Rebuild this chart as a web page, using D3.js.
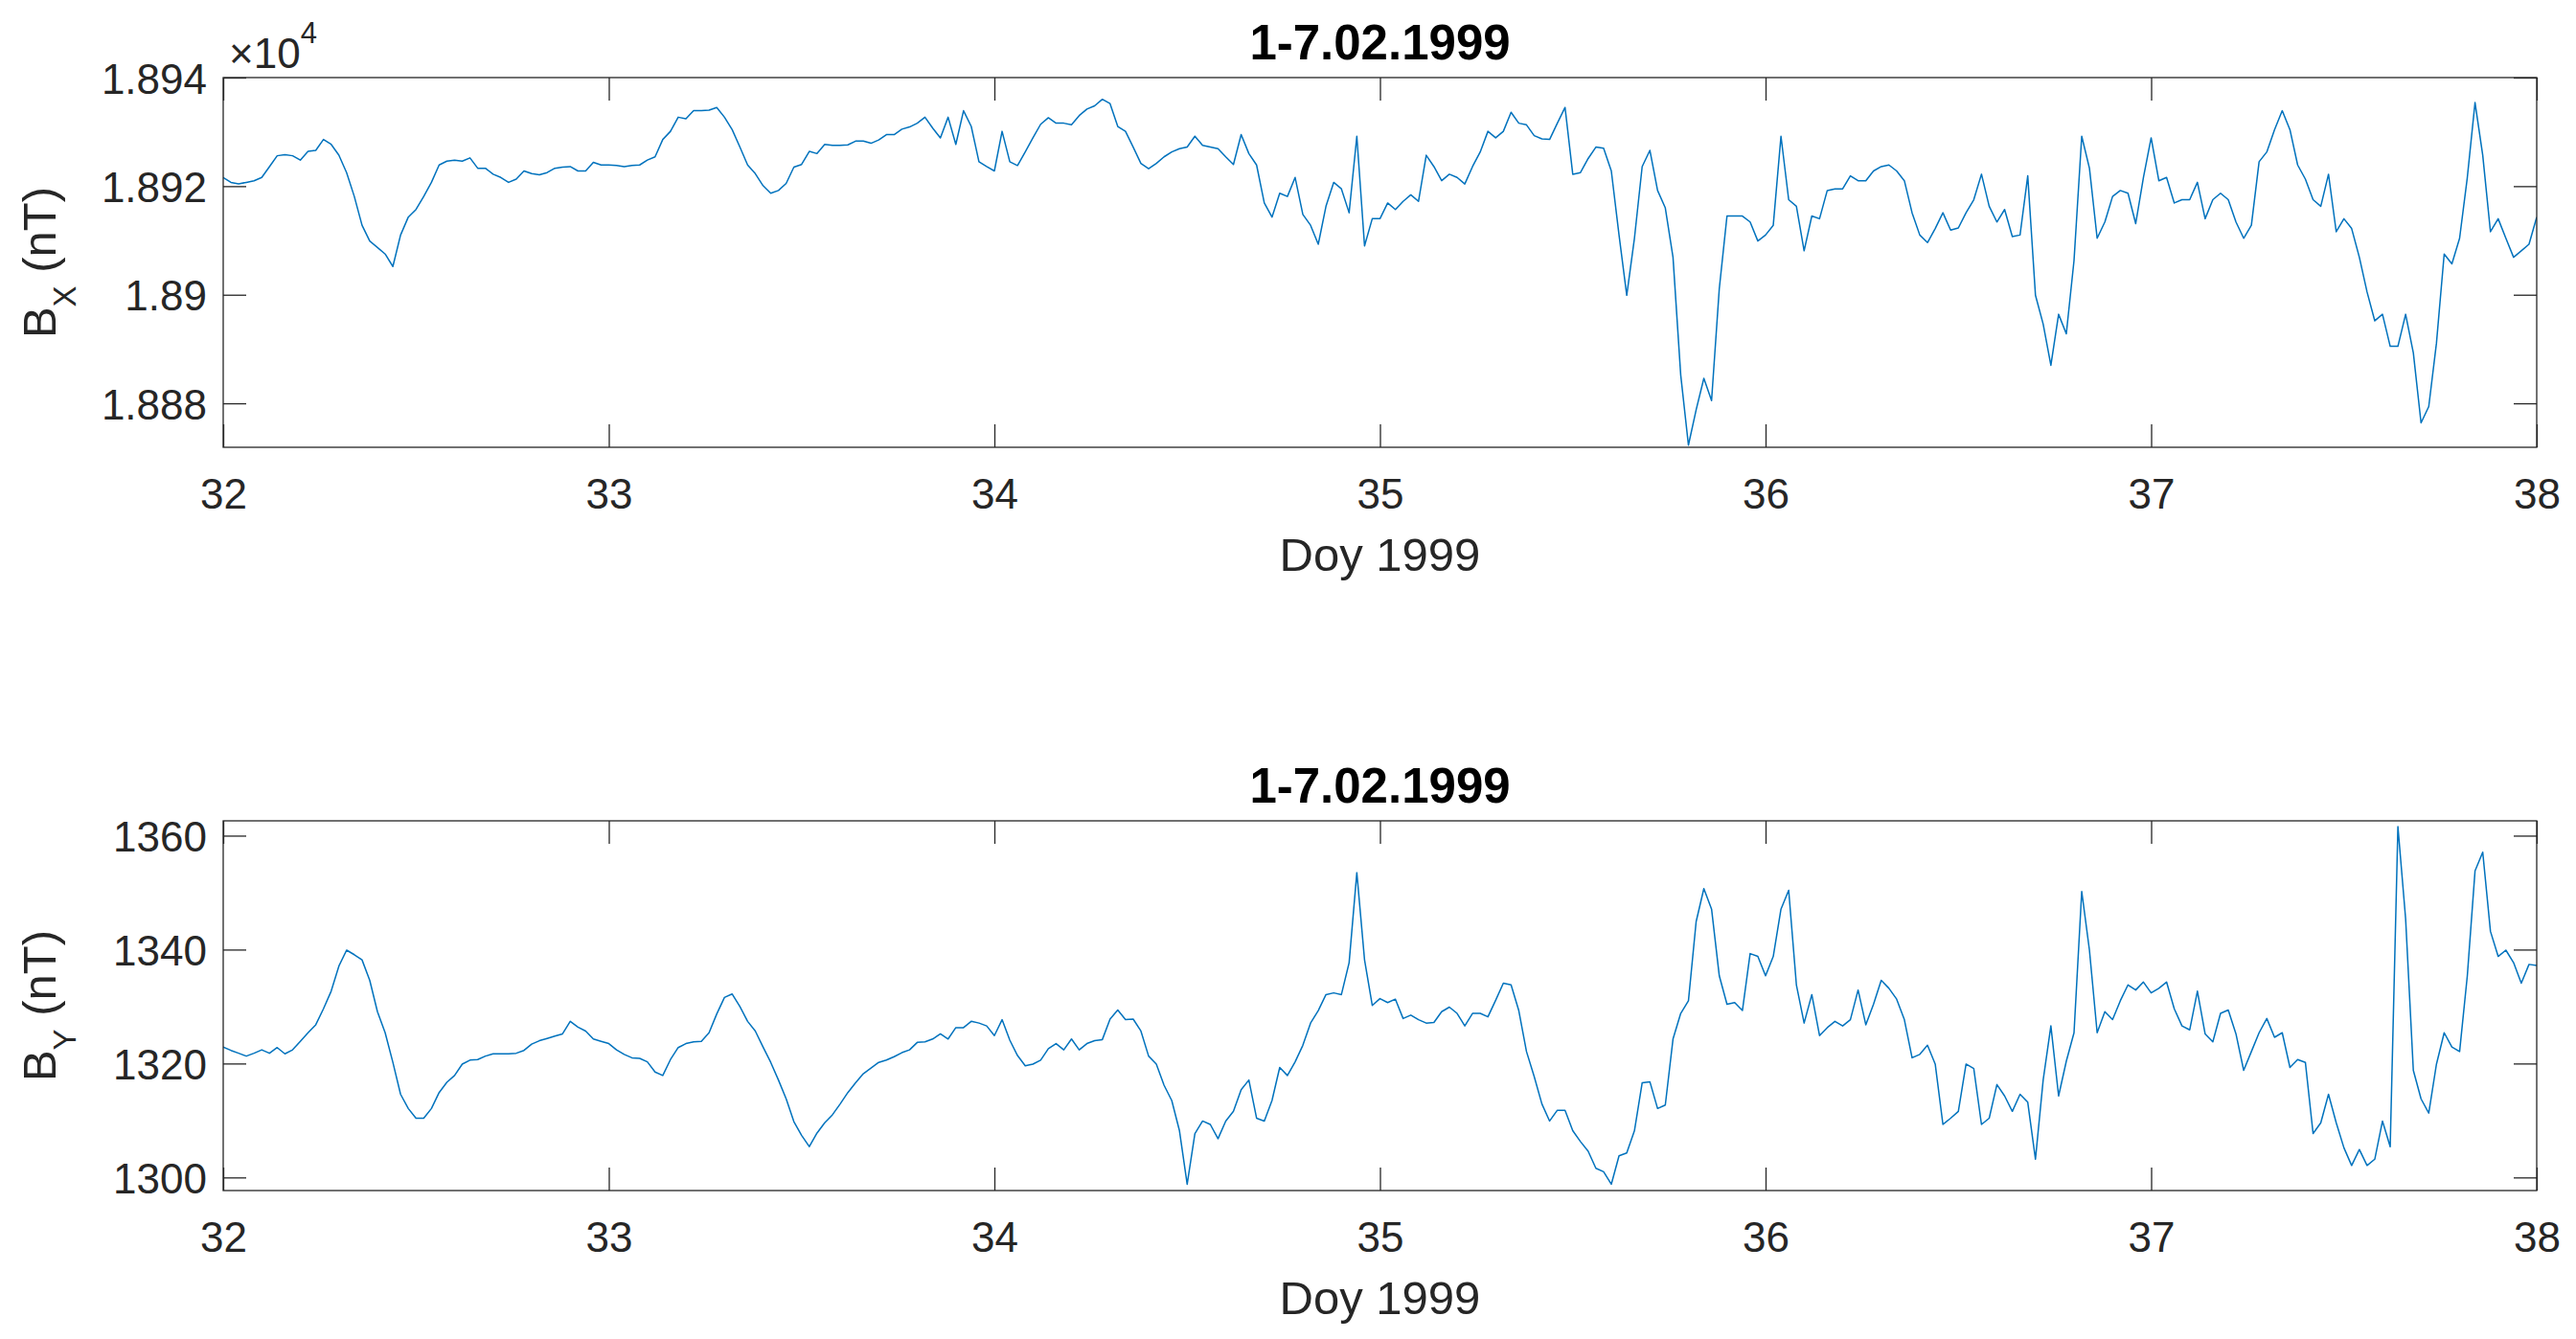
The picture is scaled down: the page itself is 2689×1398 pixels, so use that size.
<!DOCTYPE html>
<html><head><meta charset="utf-8">
<script src="https://cdn.jsdelivr.net/npm/d3@7"></script>
<style>body{margin:0;background:#fff}svg{display:block}</style>
</head><body>
<svg id="chart" width="2689" height="1398"></svg>
<script>
// ---------------- data ----------------
const dayStart = 32;
const sampleStep = 0.02;           // days between samples
const xDomain = [32, 38];
const xTicks = [32, 33, 34, 35, 36, 37, 38];
const xLabel = "Doy 1999";
const titles = ["1-7.02.1999", "1-7.02.1999"];

const bxDomain = [18871.9, 18940];
const bxTicks = [18880, 18900, 18920, 18940];
const bxTickLabels = ["1.888", "1.89", "1.892", "1.894"];
const bxExponent = "4";

const byDomain = [1297.7, 1362.6];
const byTicks = [1300, 1320, 1340, 1360];
const byTickLabels = ["1300", "1320", "1340", "1360"];

// B_X (nT), days 32-34, 34-36, 36-38
const bxDays32to34 = [
18921.6,18920.7,18920.4,18920.7,18921.0,18921.6,18923.6,18925.6,18925.8,18925.6,
18924.8,18926.4,18926.6,18928.6,18927.7,18925.7,18922.5,18918.1,18912.8,18909.9,
18908.7,18907.5,18905.2,18911.0,18914.3,18915.7,18918.1,18920.7,18923.9,18924.6,
18924.8,18924.6,18925.2,18923.3,18923.3,18922.2,18921.6,18920.7,18921.3,18922.8,
18922.3,18922.1,18922.5,18923.3,18923.5,18923.6,18922.8,18922.8,18924.4,18923.9,
18923.9,18923.8,18923.6,18923.8,18923.9,18924.8,18925.4,18928.6,18930.1,18932.7,
18932.4,18933.9,18933.9,18934.0,18934.5,18932.7,18930.4,18927.2,18923.9,18922.3,
18920.1,18918.7,18919.2,18920.5,18923.5,18924.0,18926.4,18926.0,18927.7,18927.5,
18927.5,18927.6,18928.3,18928.3,18927.9,18928.5,18929.5,18929.5,18930.5,18930.9,
18931.6,18932.7,18930.7,18928.9,18932.7,18927.7,18933.9,18931.0,18924.5,18923.6,
18922.8];
const bxDays34to36 = [
18930.1,18924.5,18923.8,18926.3,18928.9,18931.4,18932.6,18931.6,18931.6,18931.3,
18933.0,18934.2,18934.8,18936.0,18935.2,18931.0,18930.1,18927.2,18924.2,18923.2,
18924.2,18925.4,18926.3,18926.9,18927.2,18929.2,18927.5,18927.2,18926.9,18925.4,
18924.0,18929.5,18926.0,18923.9,18916.9,18914.3,18918.7,18918.1,18921.6,18914.8,
18912.8,18909.3,18916.3,18920.7,18919.5,18915.1,18929.2,18909.0,18914.0,18914.0,
18916.9,18915.7,18917.2,18918.4,18917.2,18925.7,18923.6,18921.0,18922.2,18921.6,
18920.4,18923.6,18926.3,18930.1,18928.9,18930.1,18933.6,18931.6,18931.3,18929.3,
18928.7,18928.6,18931.6,18934.5,18922.2,18922.5,18925.1,18927.2,18927.0,18922.8,
18911.0,18899.9,18910.4,18923.6,18926.6,18919.2,18916.0,18906.9,18885.2,18872.3,
18878.8,18884.6,18880.5,18901.1,18914.5,18914.5,18914.5,18913.4,18909.9,18911.0];
const bxDays36to38 = [
18912.8,18929.2,18917.5,18916.3,18908.1,18914.5,18914.0,18919.2,18919.5,18919.5,
18921.9,18921.0,18921.0,18922.8,18923.6,18923.9,18922.8,18921.0,18915.1,18911.0,
18909.6,18912.2,18915.1,18911.9,18912.3,18915.1,18917.5,18922.2,18916.3,18913.4,
18915.7,18910.7,18911.0,18921.9,18899.9,18894.6,18887.0,18896.4,18892.8,18906.3,
18929.2,18923.3,18910.4,18913.4,18918.1,18919.2,18918.7,18913.1,18921.6,18928.9,
18921.0,18921.6,18916.9,18917.5,18917.5,18920.7,18914.0,18917.5,18918.7,18917.5,
18913.4,18910.4,18912.8,18924.5,18926.3,18930.4,18933.9,18930.4,18923.9,18921.3,
18917.5,18916.3,18922.2,18911.6,18914.0,18912.2,18906.9,18900.5,18895.2,18896.4,
18890.5,18890.5,18896.4,18889.3,18876.4,18879.4,18891.1,18907.5,18905.7,18910.4,
18921.6,18935.4,18925.7,18911.6,18914.0,18910.4,18906.9,18908.1,18909.3,18914.3];

// B_Y (nT), days 32-34, 34-36, 36-38
const byDays32to34 = [
1322.9,1322.3,1321.8,1321.3,1321.8,1322.4,1321.8,1322.8,1321.7,1322.4,
1323.9,1325.4,1326.8,1329.6,1332.7,1337.1,1339.9,1339.1,1338.2,1334.6,
1329.1,1325.4,1320.2,1314.6,1312.1,1310.4,1310.4,1312.1,1314.9,1316.7,
1317.9,1319.9,1320.6,1320.7,1321.3,1321.7,1321.7,1321.7,1321.8,1322.3,
1323.4,1324.0,1324.4,1324.8,1325.2,1327.4,1326.4,1325.7,1324.3,1323.9,
1323.5,1322.4,1321.6,1321.0,1320.9,1320.3,1318.5,1317.9,1320.7,1322.8,
1323.5,1323.8,1323.9,1325.4,1328.7,1331.6,1332.2,1330.0,1327.4,1325.7,
1322.9,1320.2,1317.1,1313.8,1309.8,1307.4,1305.4,1307.8,1309.6,1311.0,
1312.9,1314.9,1316.6,1318.2,1319.2,1320.2,1320.6,1321.2,1321.9,1322.4,
1323.7,1323.8,1324.3,1325.2,1324.3,1326.3,1326.3,1327.4,1327.1,1326.6,
1324.9];
const byDays34to36 = [
1327.7,1324.1,1321.4,1319.6,1319.9,1320.6,1322.6,1323.5,1322.4,1324.3,
1322.4,1323.5,1324.0,1324.2,1327.8,1329.4,1327.7,1327.8,1325.7,1321.3,
1319.9,1316.2,1313.5,1308.2,1298.8,1307.7,1309.9,1309.3,1306.8,1309.9,
1311.6,1315.4,1317.1,1310.4,1309.9,1313.5,1319.3,1317.9,1320.3,1323.2,
1327.1,1329.3,1332.1,1332.4,1332.1,1337.7,1353.5,1338.2,1330.2,1331.4,
1330.7,1331.3,1327.9,1328.5,1327.7,1327.1,1327.2,1329.1,1329.9,1328.8,
1326.6,1328.8,1328.8,1328.2,1331.1,1334.1,1333.8,1329.3,1322.1,1317.7,
1312.9,1309.9,1311.8,1311.8,1308.2,1306.3,1304.6,1301.6,1301.0,1298.8,
1303.8,1304.3,1308.2,1316.6,1316.8,1312.1,1312.7,1324.3,1328.8,1331.0,
1344.9,1350.7,1347.1,1335.4,1330.4,1330.7,1329.3,1339.3,1338.8,1335.4];
const byDays36to38 = [
1338.8,1347.1,1350.4,1333.8,1327.1,1332.1,1324.9,1326.3,1327.4,1326.6,
1327.7,1332.9,1326.8,1330.4,1334.6,1333.2,1331.3,1327.7,1321.0,1321.6,
1323.2,1319.9,1309.3,1310.4,1311.6,1319.9,1319.1,1309.3,1310.4,1316.3,
1314.3,1311.6,1314.6,1313.2,1303.2,1317.1,1326.6,1314.3,1320.4,1325.4,
1350.2,1339.9,1325.4,1329.1,1327.7,1331.0,1333.8,1332.9,1334.3,1332.4,
1333.2,1334.3,1329.6,1326.6,1325.9,1332.7,1325.2,1323.8,1328.8,1329.4,
1325.2,1318.8,1322.1,1325.4,1327.9,1324.6,1325.4,1319.3,1320.7,1320.2,
1307.7,1309.6,1314.6,1309.6,1305.2,1302.1,1304.9,1302.1,1303.2,1309.9,
1305.4,1361.6,1345.4,1318.8,1313.8,1311.3,1319.9,1325.4,1322.9,1322.1,
1335.4,1353.8,1357.1,1343.2,1338.8,1339.9,1337.7,1334.1,1337.4,1337.2];

const bxValues = bxDays32to34.concat(bxDays34to36, bxDays36to38);
const byValues = byDays32to34.concat(byDays34to36, byDays36to38);

// ---------------- drawing ----------------
const svg = d3.select("#chart");
svg.append("rect").attr("width", 2689).attr("height", 1398).attr("fill", "#fff");

const FONT = "'Liberation Sans', Arial, Helvetica, sans-serif";
const AX = "#262626";
const plotLeft = 233, plotRight = 2648;

const x = d3.scaleLinear().domain(xDomain).range([plotLeft, plotRight]);

function drawPanel(p) {
  const y = d3.scaleLinear().domain(p.domain).range([p.bottom, p.top]);
  const g = svg.append("g");
  const clipId = "clip" + p.id;
  svg.append("clipPath").attr("id", clipId).append("rect")
    .attr("x", plotLeft).attr("y", p.top)
    .attr("width", plotRight - plotLeft).attr("height", p.bottom - p.top);

  const pts = p.values.map((v, i) => [dayStart + i * sampleStep, v]);
  const line = d3.line().x(d => x(d[0])).y(d => y(d[1]));
  g.append("path").datum(pts)
    .attr("clip-path", `url(#${clipId})`)
    .attr("d", line)
    .attr("fill", "none").attr("stroke", "#0072BD")
    .attr("stroke-width", 1.5).attr("stroke-linejoin", "round");

  // axes
  const ax = g.append("g").attr("transform", `translate(0,${p.bottom})`)
    .call(d3.axisBottom(x).tickValues(xTicks).tickSize(-24).tickPadding(30).tickFormat(d3.format("d")));
  const axT = g.append("g").attr("transform", `translate(0,${p.top})`)
    .call(d3.axisTop(x).tickValues(xTicks).tickSize(-24).tickFormat(""));
  const ay = g.append("g").attr("transform", `translate(${plotLeft},0)`)
    .call(d3.axisLeft(y).tickValues(p.ticks).tickSize(-24).tickPadding(17)
      .tickFormat((d, i) => p.tickLabels[i]));
  const ayR = g.append("g").attr("transform", `translate(${plotRight},0)`)
    .call(d3.axisRight(y).tickValues(p.ticks).tickSize(-24).tickFormat(""));
  [ax, axT, ay, ayR].forEach(a => {
    a.select(".domain").remove();
    a.selectAll("line").attr("stroke", AX).attr("stroke-width", 1.3);
    a.selectAll("text").attr("fill", AX).style("font-family", FONT).style("font-size", "44px");
  });
  ax.selectAll("text").attr("dy", null).attr("y", 64);
  ay.selectAll("text").attr("dy", null).attr("y", 16);

  g.append("rect").attr("x", plotLeft).attr("y", p.top)
    .attr("width", plotRight - plotLeft).attr("height", p.bottom - p.top)
    .attr("fill", "none").attr("stroke", AX).attr("stroke-width", 1.3);

  // title
  g.append("text").attr("x", (plotLeft + plotRight) / 2).attr("y", p.top - 19)
    .attr("text-anchor", "middle").attr("fill", "#000")
    .style("font-family", FONT).style("font-size", "51px").style("font-weight", "bold")
    .text(p.title);

  // x label
  g.append("text").attr("x", (plotLeft + plotRight) / 2).attr("y", p.bottom + 129)
    .attr("text-anchor", "middle").attr("fill", AX)
    .style("font-family", FONT).style("font-size", "49px")
    .text(xLabel);

  // y label (rotated) with subscript
  const cy = (p.top + p.bottom) / 2;
  const yl = g.append("text")
    .attr("transform", `translate(58,${cy}) rotate(-90)`)
    .attr("text-anchor", "middle").attr("fill", AX)
    .style("font-family", FONT).style("font-size", "49px");
  yl.append("tspan").text("B");
  yl.append("tspan").attr("dy", 21).style("font-size", "33px").text(p.sub);
  yl.append("tspan").attr("dy", -21).text("\u00a0(nT)");

  if (p.exponent) {
    const ex = g.append("text").attr("x", 239).attr("y", p.top - 10)
      .attr("fill", AX).style("font-family", FONT).style("font-size", "44px");
    ex.append("tspan").text("\u00d710");
    ex.append("tspan").attr("dy", -26).style("font-size", "31px").text(p.exponent);
  }
}

drawPanel({ id: "x", top: 81, bottom: 467, domain: bxDomain, ticks: bxTicks,
  tickLabels: bxTickLabels, values: bxValues, title: titles[0], sub: "X", exponent: bxExponent });
drawPanel({ id: "y", top: 857, bottom: 1243, domain: byDomain, ticks: byTicks,
  tickLabels: byTickLabels, values: byValues, title: titles[1], sub: "Y", exponent: null });
</script>
</body></html>
